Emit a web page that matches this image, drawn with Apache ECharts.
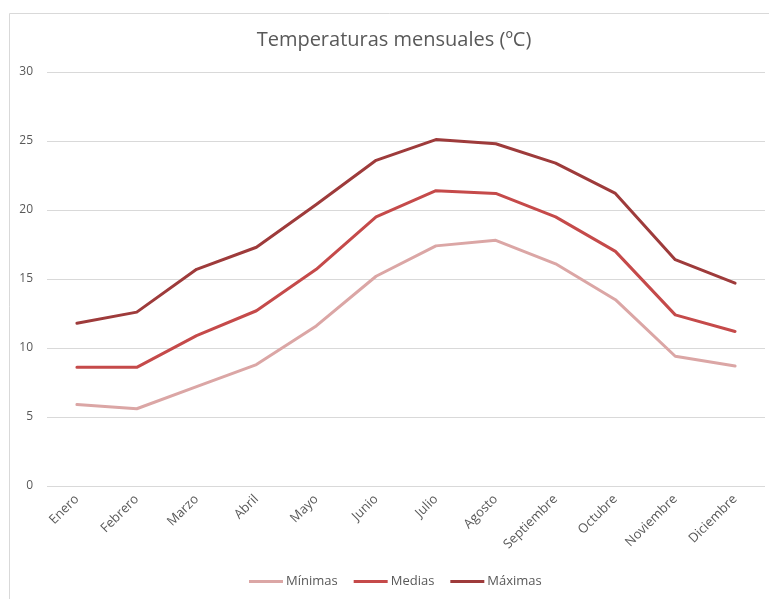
<!DOCTYPE html>
<html>
<head>
<meta charset="utf-8">
<script src="https://cdn.jsdelivr.net/npm/echarts@6/dist/echarts.min.js"></script>
<style>html,body{margin:0;padding:0;background:#fff}#c{width:769px;height:599px}</style>
</head>
<body>
<div id="c"></div>
<script>
const months = ['Enero','Febrero','Marzo','Abril','Mayo','Junio','Julio','Agosto','Septiembre','Octubre','Noviembre','Diciembre'];
const minimas = [5.9, 5.6, 7.2, 8.8, 11.6, 15.2, 17.4, 17.8, 16.1, 13.5, 9.4, 8.7];
const medias = [8.6, 8.6, 10.9, 12.7, 15.7, 19.5, 21.4, 21.2, 19.5, 17.0, 12.4, 11.2];
const maximas = [11.8, 12.6, 15.7, 17.3, 20.4, 23.6, 25.1, 24.8, 23.4, 21.2, 16.4, 14.7];
const yTicks = [0, 5, 10, 15, 20, 25, 30];

const FONT = 'Open Sans';
const chart = echarts.init(document.getElementById('c'), null, {renderer: 'canvas'});
const mk = (name, data, color) => ({
  name, type: 'line', data, symbol: 'none', smooth: false,
  lineStyle: {width: 3, color, cap: 'round', join: 'round'},
  itemStyle: {color}
});
chart.setOption({
  animation: false,
  textStyle: {fontFamily: FONT},
  graphic: [{type: 'rect', left: 7, top: 11, shape: {width: 900, height: 800}, style: {fill: 'none', stroke: '#d9d9d9', lineWidth: 1}, silent: true}],
  title: {
    text: 'Temperaturas mensuales (ºC)', left: 389, top: 25, textAlign: 'center',
    textStyle: {fontFamily: FONT, fontSize: 20, fontWeight: 'normal', color: '#595959'}
  },
  legend: {
    data: ['Mínimas', 'Medias', 'Máximas'],
    left: 244, top: 570,
    icon: 'rect', itemWidth: 34, itemHeight: 3, itemGap: 16,
    textStyle: {fontFamily: FONT, fontSize: 13, color: '#595959', padding: [0,0,0,-2]}
  },
  grid: {left: 47, right: 4, top: 72, bottom: 113},
  xAxis: {
    type: 'category', data: months, boundaryGap: true,
    axisLine: {show: false}, axisTick: {show: false},
    axisLabel: {rotate: 45, margin: 11, color: '#595959', fontSize: 13, fontFamily: FONT}
  },
  yAxis: {
    type: 'value', min: yTicks[0], max: yTicks[yTicks.length-1], interval: 5,
    axisLine: {show: false}, axisTick: {show: false},
    axisLabel: {margin: 14, color: '#595959', fontSize: 12, fontFamily: FONT},
    splitLine: {lineStyle: {color: '#d9d9d9', width: 1}}
  },
  series: [
    mk('Mínimas', minimas, '#dba6a5'),
    mk('Medias', medias, '#c54a4a'),
    mk('Máximas', maximas, '#9e3b3b')
  ]
});
</script>
</body>
</html>
